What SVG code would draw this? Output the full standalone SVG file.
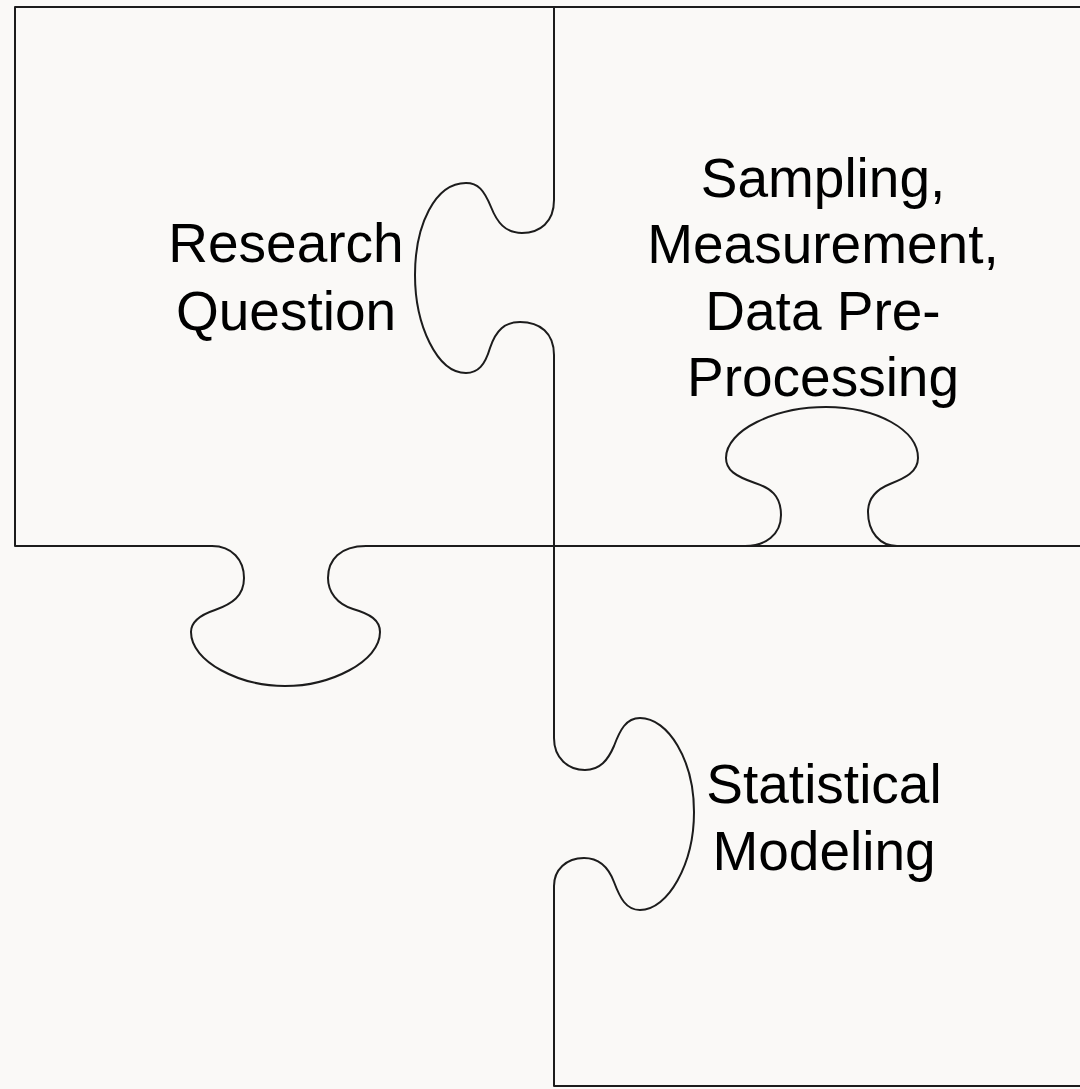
<svg xmlns="http://www.w3.org/2000/svg" width="1080" height="1089" viewBox="0 0 1080 1089">
<style>
.piece{fill:none;stroke:#1c1c1c;stroke-width:2;stroke-linejoin:round}
.lbl{font-family:"Liberation Sans",Arial,sans-serif;font-size:55px;fill:#000;text-anchor:middle}
</style>
<rect x="0" y="0" width="1080" height="1089" fill="#faf9f7"/>
<g id="connectors"></g>
<g id="research-question">
<path class="piece" d="M15,7 H554 V200 C554,222 540,233 522,233 C505,233 497,222 491,207 C484,190 478,183 466,183 C435,183 415,225 415,275 C415,325 437,373 466,373 C478,373 485,365 490,348 C496,330 505,322 520,322 C540,322 554,333 554,355 V546 H366 C340,546 328,560 328,578 C328,592 337,604 353,609 C370,614 380,620 380,632 C380,662 330,686 285,686 C240,686 191,662 191,632 C191,622 200,615 215,610 C232,604 244,596 244,578 C244,560 232,546 212,546 H15 Z"/>
<text class="lbl" x="286" y="262">Research</text>
<text class="lbl" x="286" y="330">Question</text>
</g>
<g id="sampling">
<path class="piece" d="M554,7 H1090 V546 H897 C880,546 868,532 868,512 C868,500 875,490 890,484 C905,478 918,472 918,458 C918,430 877,407 826,407 C775,407 726,430 726,458 C726,470 735,476 755,483 C770,488 781,495 781,515 C781,535 765,546 745,546 H554"/>
<text class="lbl" x="823" y="197">Sampling,</text>
<text class="lbl" x="823" y="263">Measurement,</text>
<text class="lbl" x="823" y="330">Data Pre-</text>
<text class="lbl" x="823" y="396">Processing</text>
</g>
<g id="statistical-modeling">
<path class="piece" d="M554,546 H1090 V1086 H554 V886 C554,870 566,858 584,858 C598,858 608,866 614,882 C620,898 626,910 640,910 C668,910 694,864 694,812 C694,760 668,718 640,718 C626,718 620,730 614,746 C608,760 600,770 585,770 C568,770 554,758 554,738 Z"/>
<text class="lbl" x="824" y="803">Statistical</text>
<text class="lbl" x="824" y="870">Modeling</text>
</g>
</svg>
